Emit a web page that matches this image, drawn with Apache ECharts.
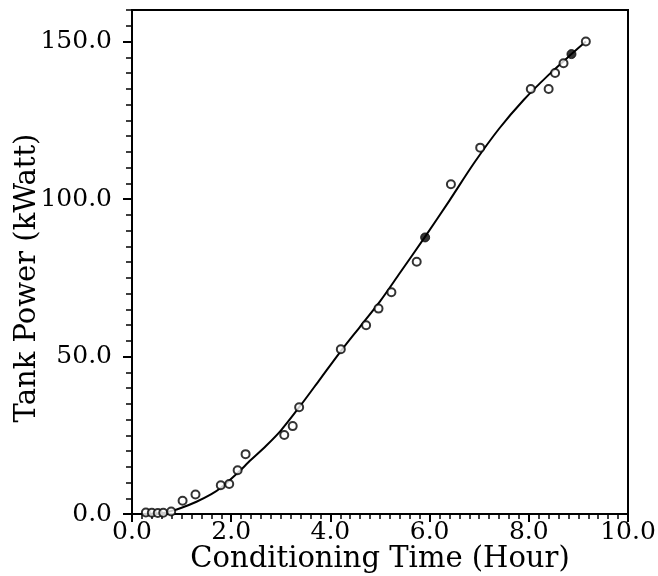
<!DOCTYPE html>
<html>
<head>
<meta charset="utf-8">
<script src="https://cdn.jsdelivr.net/npm/echarts@6/dist/echarts.min.js"></script>
<style>
html,body{margin:0;padding:0;background:#fff;}
#chart{width:658px;height:576px;}
</style>
</head>
<body>
<div id="chart"></div>
<script>
// Measured data (open circles)
const obsX = [0.28, 0.40, 0.52, 0.63, 0.79, 1.02, 1.28, 1.79, 1.96, 2.13, 2.29, 3.07, 3.24, 3.37, 4.21, 4.72, 4.97, 5.23, 5.74, 6.43, 7.02, 8.04, 8.40, 8.53, 8.70, 9.15];
const obsY = [0.5, 0.4, 0.3, 0.4, 0.8, 4.2, 6.2, 9.1, 9.5, 13.9, 19.0, 25.1, 27.9, 33.9, 52.3, 59.9, 65.2, 70.4, 80.1, 104.7, 116.3, 134.9, 134.9, 140.0, 143.1, 150.0];
// Filled points
const fillX = [5.91, 8.86];
const fillY = [87.8, 146.0];
// Fitted curve
const fitX = [0.3, 0.6, 0.8, 1.0, 1.3, 1.6, 1.8, 2.1, 2.4, 2.7, 3.0, 3.4, 3.8, 4.2, 4.6, 5.0, 5.4, 5.9, 6.4, 6.9, 7.4, 7.9, 8.4, 8.86, 9.15];
const fitY = [0.0, 0.3, 1.0, 2.0, 3.9, 6.3, 8.4, 12.6, 17.2, 21.6, 26.5, 34.5, 43.0, 51.5, 59.5, 67.5, 76.5, 87.8, 99.5, 111.5, 122.3, 131.5, 139.4, 146.0, 150.0];

const xTitle = 'Conditioning Time (Hour)';
const yTitle = 'Tank Power (kWatt)';

const zip = (a, b) => a.map((v, i) => [v, b[i]]);
const FONT = 'DejaVu Serif';

const chart = echarts.init(document.getElementById('chart'), null, {renderer: 'canvas'});
chart.setOption({
  animation: false,
  backgroundColor: '#fff',
  grid: {left: 132, right: 30, top: 10, bottom: 62, containLabel: false, outerBoundsMode: 'none',
         show: true, borderColor: '#000', borderWidth: 2, backgroundColor: 'transparent'},
  xAxis: {
    type: 'value', min: 0, max: 10, interval: 2,
    axisLine: {show: true, lineStyle: {color: '#000', width: 2}},
    axisTick: {show: true, inside: false, length: 8, lineStyle: {color: '#000', width: 2}},
    minorTick: {show: true, splitNumber: 10, length: 5, lineStyle: {color: '#000', width: 1.5}},
    splitLine: {show: false},
    axisLabel: {color: '#000', fontFamily: FONT, fontSize: 25, margin: 6, formatter: v => v.toFixed(1)},
    name: xTitle, nameLocation: 'middle', nameGap: 31, nameMoveOverlap: false,
    nameTextStyle: {color: '#000', fontFamily: FONT, fontSize: 29}
  },
  yAxis: [{
    type: 'value', min: 0, max: 160, interval: 5,
    axisLine: {show: true, lineStyle: {color: '#000', width: 2}},
    axisTick: {show: true, inside: false, length: 6, lineStyle: {color: '#000', width: 1.5}},
    splitLine: {show: false},
    axisLabel: {show: false}
  }, {
    type: 'value', min: 0, max: 160, interval: 50, position: 'left',
    axisLine: {show: true, lineStyle: {color: '#000', width: 2}},
    axisTick: {show: true, inside: false, length: 9, lineStyle: {color: '#000', width: 2}},
    splitLine: {show: false},
    axisLabel: {color: '#000', fontFamily: FONT, fontSize: 25, margin: 20, showMaxLabel: false, formatter: v => v.toFixed(1)},
    name: yTitle, nameLocation: 'middle', nameGap: 90, nameRotate: 90, nameMoveOverlap: false,
    nameTextStyle: {color: '#000', fontFamily: FONT, fontSize: 29, padding: [0, 32, 0, 0]}
  }],
  series: [{
    type: 'line', name: 'fit', data: zip(fitX, fitY), smooth: 0.3, showSymbol: false,
    lineStyle: {color: '#000', width: 2}, z: 2
  }, {
    type: 'scatter', name: 'obs', data: zip(obsX, obsY), symbol: 'circle', symbolSize: 8,
    itemStyle: {color: '#fff', borderColor: '#000', borderWidth: 2}, z: 3
  }, {
    type: 'scatter', name: 'filled', data: zip(fillX, fillY), symbol: 'circle', symbolSize: 9,
    itemStyle: {color: '#000', borderColor: '#000', borderWidth: 1}, z: 4
  }]
});
</script>
</body>
</html>
